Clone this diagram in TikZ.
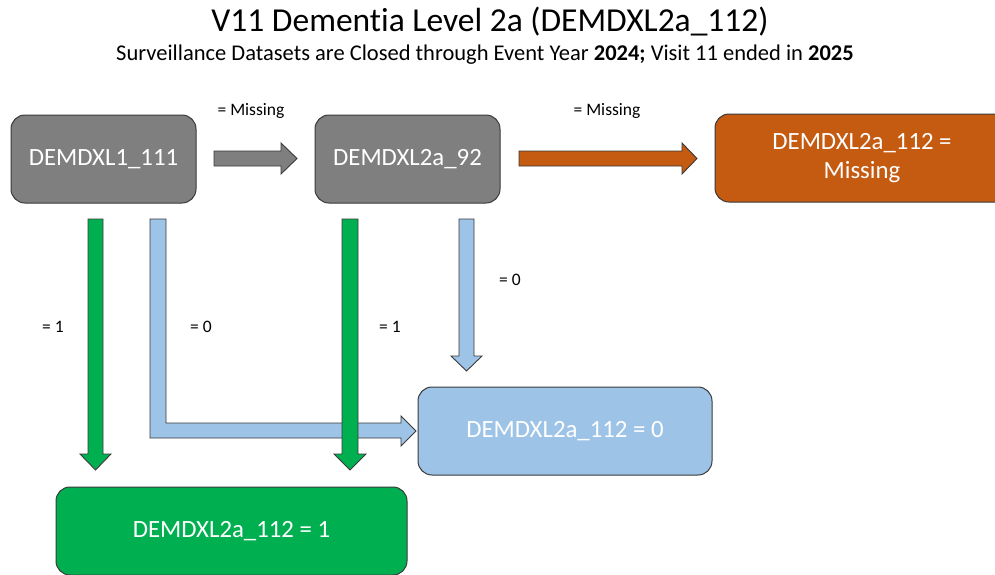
\documentclass[tikz,border=0pt]{standalone}
\usepackage{fontspec}
\setmainfont{Carlito}[Ligatures=NoCommon]
\definecolor{boxgray}{HTML}{7F7F7F}
\definecolor{boxorange}{HTML}{C55A11}
\definecolor{boxblue}{HTML}{9DC3E6}
\definecolor{boxgreen}{HTML}{00B050}
\definecolor{edgegray}{HTML}{3A3A3A}
\tikzset{
  box/.style={draw=edgegray, line width=1pt, rounded corners=14pt, text=white,
    minimum height=88pt, inner sep=0pt, align=center,
    font=\fontsize{24.8}{29}\selectfont},
  blockarrow/.style={draw=edgegray, line width=0.9pt, line join=miter},
  lbl/.style={font=\fontsize{17.5}{20}\selectfont, text=black, inner sep=0pt},
}
\begin{document}
\begin{tikzpicture}[x=1pt,y=-1pt]
\useasboundingbox (0,0) rectangle (995,574);
\fill[white] (0,0) rectangle (995,574);

% title
\node[font=\fontsize{33.5}{38}\selectfont, inner sep=0pt] (title) at (490,22) {V11 Dementia Level 2a (DEMDXL2a\_112)};
\node[font=\fontsize{22.5}{26}\selectfont, inner sep=0pt] (subtitle) at (485,55) {Surveillance Datasets are Closed through Event Year \textbf{2024;} Visit 11 ended in \textbf{2025}};

% boxes
\node[box, fill=boxgray, minimum width=185pt] (A) at (103.5,159) {DEMDXL1\_111};
\node[box, fill=boxgray, minimum width=185pt] (B) at (407.5,159) {DEMDXL2a\_92};
\node[box, fill=boxorange, minimum width=294pt] (C) at (862,158) {DEMDXL2a\_112 =\\Missing};
\node[box, fill=boxblue, minimum width=294pt] (D) at (565,431) {DEMDXL2a\_112 = 0};
\node[box, fill=boxgreen, minimum width=351pt] (E) at (231.5,531) {DEMDXL2a\_112 = 1};

% horizontal arrows
\draw[blockarrow, fill=boxgray] (214,151) -- (281,151) -- (281,143) -- (297,158.5) -- (281,174) -- (281,166) -- (214,166) -- cycle;
\draw[blockarrow, fill=boxorange] (519,151) -- (682,151) -- (682,143) -- (697,158.5) -- (682,174) -- (682,166) -- (519,166) -- cycle;

% light blue L arrow from A to D
\draw[blockarrow, fill=boxblue] (150,219) -- (166,219) -- (166,423) -- (401,423) -- (401,416) -- (416,431) -- (401,446) -- (401,438) -- (150,438) -- cycle;
% light blue arrow from B down
\draw[blockarrow, fill=boxblue] (459,219) -- (474,219) -- (474,356) -- (482,356) -- (466.5,371) -- (451,356) -- (459,356) -- cycle;

% green arrows
\draw[blockarrow, fill=boxgreen] (88,219) -- (103,219) -- (103,454) -- (111,454) -- (95.5,470) -- (80,454) -- (88,454) -- cycle;
\draw[blockarrow, fill=boxgreen] (342,219) -- (358,219) -- (358,454) -- (366,454) -- (350,470) -- (334,454) -- (342,454) -- cycle;

% labels
\node[lbl] (l1) at (251,111) {= Missing};
\node[lbl] (l2) at (607,111) {= Missing};
\node[lbl] (l3) at (53,327) {= 1};
\node[lbl] (l4) at (201,327) {= 0};
\node[lbl] (l5) at (390,327) {= 1};
\node[lbl] (l6) at (510,280) {= 0};
\end{tikzpicture}
\end{document}
